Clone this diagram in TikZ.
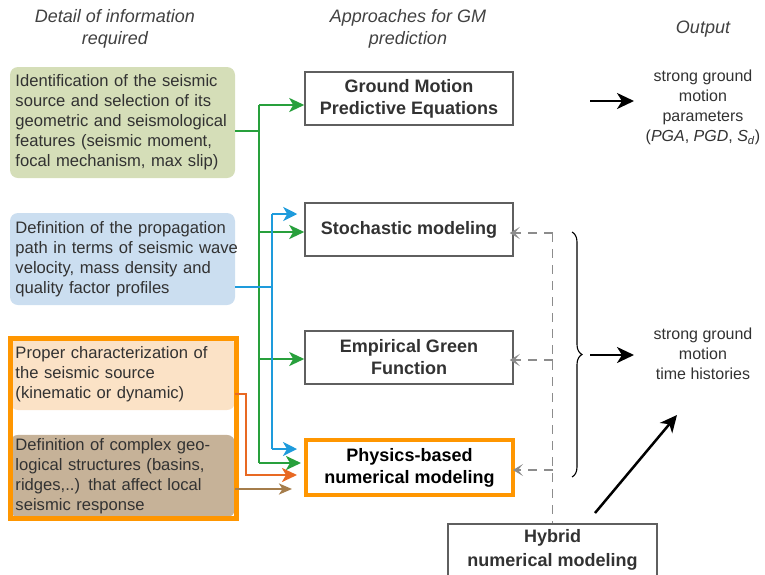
\documentclass[tikz,border=0pt]{standalone}
\usepackage{fontspec}
\setmainfont{Liberation Sans}
\usetikzlibrary{arrows.meta,decorations.pathreplacing}
\definecolor{txt}{RGB}{50,50,50}
\definecolor{hdrc}{RGB}{65,65,65}
\definecolor{gfill}{RGB}{213,222,184}
\definecolor{bfill}{RGB}{203,222,240}
\definecolor{pfill}{RGB}{251,226,198}
\definecolor{brfill}{RGB}{198,178,152}
\definecolor{oframe}{RGB}{255,150,0}
\definecolor{boxgray}{RGB}{95,95,95}
\definecolor{gln}{RGB}{40,160,60}
\definecolor{bln}{RGB}{30,155,220}
\definecolor{oln}{RGB}{232,105,35}
\definecolor{brln}{RGB}{165,125,75}
\definecolor{dgray}{RGB}{140,140,140}
\newcommand{\Lx}[1]{\mbox{#1}}
\tikzset{
  infobox/.style={rounded corners=8pt, minimum width=225pt, text width=214pt, inner xsep=5.5pt,
    align=left, font=\fontsize{16.6}{20}\selectfont, text=txt},
  approach/.style={draw=boxgray, line width=1.5pt, fill=white, minimum width=208pt, minimum height=53pt,
    align=center, font=\bfseries\fontsize{18}{22}\selectfont, text=txt},
  hdr/.style={align=center, font=\itshape\fontsize{18}{22}\selectfont, text=hdrc},
  outtxt/.style={align=center, font=\fontsize{16}{20}\selectfont, text=txt},
  gline/.style={draw=gln, line width=2.5pt},
  garr/.style={gline, -{Stealth[length=15pt,width=14pt,inset=4pt]}},
  bline/.style={draw=bln, line width=2.5pt},
  barr/.style={bline, -{Stealth[length=14pt,width=14pt,inset=4pt]}},
  oarr/.style={draw=oln, line width=2.5pt, -{Stealth[length=15pt,width=14pt,inset=4pt]}},
  brarr/.style={draw=brln, line width=2.5pt, -{Stealth[length=13pt,width=11pt,inset=3.5pt]}},
  dline/.style={draw=dgray, line width=1.5pt, dash pattern=on 9pt off 7pt},
  darr/.style={dline, -{Stealth[length=10pt,width=12pt,inset=5pt]}},
  karr/.style={draw=black, line width=2.5pt, -{Stealth[length=17pt,width=16pt,inset=5pt]}}
}
\begin{document}
\begin{tikzpicture}[x=1pt,y=-1pt]
\useasboundingbox (0,0) rectangle (765,574);
\clip (0,0) rectangle (765,574);
% headers
\node[hdr] (h1) at (115,29) {Detail of information\\required};
\node[hdr] (h2) at (408,29) {Approaches for GM\\prediction};
\node[hdr] (h3) at (703,29) {Output};
% info boxes
\node[infobox, fill=gfill, minimum height=111pt] (src) at (122.5,122.5)
  {\Lx{Identification of the seismic}\\\Lx{source and selection of its}\\\Lx{geometric and seismological}\\\Lx{features (seismic moment,}\\\Lx{focal mechanism, max slip)}};
\node[infobox, fill=bfill, minimum height=92pt] (prop) at (122.5,259)
  {\Lx{Definition of the propagation}\\\Lx{path in terms of seismic wave}\\\Lx{velocity, mass density and}\\\Lx{quality factor profiles}};
\node[infobox, fill=pfill, minimum height=72pt] (char) at (122.5,374)
  {\Lx{Proper characterization of}\\\Lx{the seismic source}\\\Lx{(kinematic or dynamic)}};
\node[infobox, fill=brfill, minimum height=82pt] (geo) at (122.5,476)
  {\Lx{Definition of complex geo-}\\\Lx{logical structures (basins,}\\\Lx{ridges,..) that affect local}\\\Lx{seismic response}};
\draw[draw=oframe, line width=5pt] (10,338) rectangle (236,518);
% approach boxes
\node[approach] (gmpe) at (409,98.5) {Ground Motion\\Predictive Equations};
\node[approach] (stoch) at (409,229.5) {Stochastic modeling};
\node[approach] (egf) at (409,357.5) {Empirical Green\\Function};
\node[approach, draw=oframe, line width=4pt, text=black, minimum width=207pt, minimum height=55pt] (phys) at (409.5,467.5) {Physics-based\\numerical modeling};
\node[approach, minimum width=209pt, minimum height=53pt, anchor=north, font=\bfseries\fontsize{18}{24}\selectfont] (hyb) at (552.5,523) {Hybrid\\numerical modeling};
% output texts
\node[outtxt] (out1) at (703,107.5) {strong ground\\motion\\parameters\\(\textit{PGA}, \textit{PGD}, \textit{S}\textsubscript{\textit{d}})};
\node[outtxt] (out2) at (703,354) {strong ground\\motion\\time histories};
% green connectors
\coordinate (gtop) at (259,105);
\coordinate (gsrc) at (259,131);
\coordinate (gs) at (259,232);
\coordinate (ge) at (259,359);
\coordinate (gbot) at (259,463);
\draw[gline] (src.east |- gsrc) -- (gsrc);
\draw[gline] (gtop) -- (gbot);
\draw[garr] (gtop) -- (gmpe.west |- gtop);
\draw[garr] (gs) -- (stoch.west |- gs);
\draw[garr] (ge) -- (egf.west |- ge);
\draw[garr, shorten >=3pt] (gbot) -- (phys.west |- gbot);
% blue connectors
\coordinate (bsrc) at (272,287);
\coordinate (btop) at (272,214);
\coordinate (bbot) at (272,449);
\draw[bline] (prop.east |- bsrc) -- (bsrc);
\draw[bline] (btop) -- (bbot);
\draw[barr, shorten >=7pt] (btop) -- (stoch.west |- btop);
\draw[barr, shorten >=7pt] (bbot) -- (phys.west |- bbot);
% orange and brown connectors
\coordinate (o1) at (246,394);
\coordinate (o2) at (246,475);
\draw[oarr, shorten >=7pt] (char.east |- o1) -- (o1) -- (o2) -- (phys.west |- o2);
\coordinate (brc) at (260,489);
\draw[brarr, shorten >=12pt] (geo.east |- brc) -- (phys.west |- brc);
% dashed gray
\coordinate (dtop) at (552.5,233);
\coordinate (de) at (552.5,360);
\coordinate (dp) at (552.5,470);
\draw[dline] (dtop) -- (hyb.north);
\draw[darr, shorten >=-4pt] (dtop) -- (stoch.east |- dtop);
\draw[darr, shorten >=-4pt] (de) -- (egf.east |- de);
\draw[darr, shorten >=-2pt] (dp) -- (phys.east |- dp);
% brace
\coordinate (brt) at (572,232);
\coordinate (brb) at (572,477);
\draw[decorate, decoration={brace, amplitude=10pt}, line width=1.1pt] (brt) -- (brb);
% black arrows
\coordinate (k1s) at (590,101);
\coordinate (k1e) at (634,101);
\coordinate (k2s) at (590,355);
\coordinate (k2e) at (634,355);
\coordinate (k3s) at (595,513);
\coordinate (k3e) at (677,415);
\draw[karr] (k1s) -- (k1e);
\draw[karr] (k2s) -- (k2e);
\draw[karr] (k3s) -- (k3e);
\end{tikzpicture}
\end{document}
